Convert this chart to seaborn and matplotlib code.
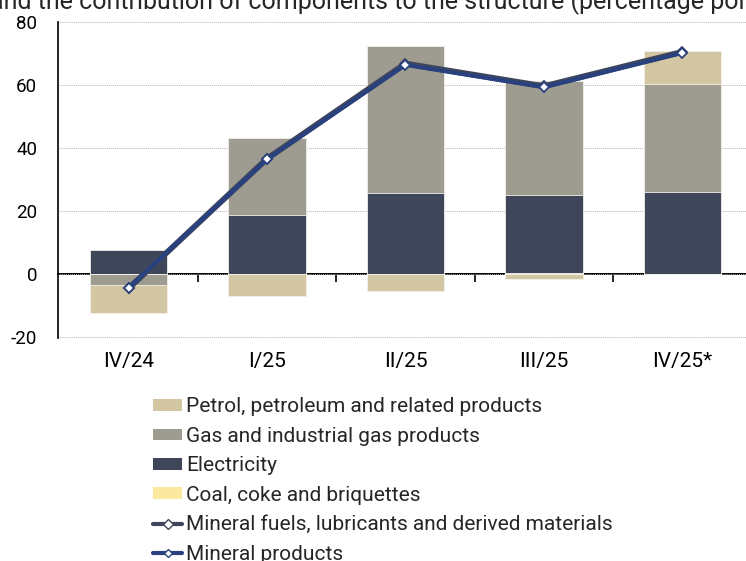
import numpy as np
import pandas as pd
import matplotlib
matplotlib.use("Agg")
import matplotlib.pyplot as plt
import seaborn as sns
from matplotlib.patches import Patch
from matplotlib.lines import Line2D

quarters = ["IV/24", "I/25", "II/25", "III/25", "IV/25*"]
petrol = [-9.0, -6.9, -5.4, -1.5, 10.5]
gas = [-3.5, 24.5, 46.5, 36.4, 34.2]
electricity = [7.7, 18.7, 25.8, 24.6, 26.1]
coal = [0.0, 0.0, 0.0, 0.4, 0.0]
mineral_fuels = [-4.6, 36.6, 66.8, 59.6, 70.5]
mineral_products = [-4.4, 36.4, 66.4, 59.3, 70.2]

title_text = "and the contribution of components to the structure (percentage points)"

c_petrol = "#d3c7a3"
c_gas = "#9e9c90"
c_elec = "#3f4659"
c_coal = "#fce9a0"
c_fuels = "#3f4659"
c_prod = "#2a417f"

sns.set_theme(style="white")
plt.rcParams["font.family"] = ["Roboto", "DejaVu Sans"]
plt.rcParams["axes.unicode_minus"] = False

fig = plt.figure(figsize=(7.46, 5.61), dpi=100)
ax = fig.add_axes([58 / 746, 1 - 337.5 / 561, (746 - 58) / 746, (337.5 - 22) / 561])

p = np.array(petrol); g = np.array(gas); e = np.array(electricity); c = np.array(coal)
pos = lambda a: np.clip(a, 0, None)
neg = lambda a: np.clip(a, None, 0)

layers_pos = [
    (pos(c) + pos(e) + pos(g) + pos(p), c_petrol),
    (pos(c) + pos(e) + pos(g), c_gas),
    (pos(c) + pos(e), c_elec),
    (pos(c), c_coal),
]
layers_neg = [
    (neg(g) + neg(p) + neg(e) + neg(c), c_petrol),
    (neg(g) + neg(e) + neg(c), c_gas),
    (neg(e) + neg(c), c_elec),
]
for vals, col in layers_pos + layers_neg:
    df = pd.DataFrame({"q": quarters, "v": vals})
    sns.barplot(data=df, x="q", y="v", color=col, width=0.56, ax=ax,
                edgecolor="#f4f1ea", linewidth=0.6, saturation=1, zorder=2)

xs = np.arange(len(quarters))
for vals, col, lw in [(mineral_fuels, c_fuels, 4.2), (mineral_products, c_prod, 3.0)]:
    sns.lineplot(x=xs, y=vals, ax=ax, color=col, linewidth=lw, marker="D",
                 markersize=5.5, markerfacecolor="white", markeredgecolor=col,
                 markeredgewidth=1.3, zorder=5, sort=False)

ax.set_xlim(-0.51, 4.46)
ax.set_ylim(-20.2, 80)
ax.set_yticks([-20, 0, 20, 40, 60, 80])
ax.set_xlabel("")
ax.set_ylabel("")
ax.grid(axis="y", color="#b5b5b5", linestyle=(0, (1, 1)), linewidth=0.7, zorder=0)
ax.set_axisbelow(True)
for s in ["top", "right", "bottom"]:
    ax.spines[s].set_visible(False)
ax.spines["left"].set_color("black")
ax.spines["left"].set_linewidth(1.2)
ax.tick_params(axis="y", which="major", direction="out", length=6, width=1.2,
               color="black", labelsize=13.5, pad=9, labelcolor="black")
ax.tick_params(axis="x", which="major", length=0, labelsize=15, pad=10.5, labelcolor="black")

sec = ax.secondary_xaxis(20.2 / 100.2)
sec.set_xticks([0.5, 1.5, 2.5, 3.5])
sec.set_xticklabels([])
sec.tick_params(direction="out", length=6, width=1.2, color="black")
sec.spines["bottom"].set_color("black")
sec.spines["bottom"].set_linewidth(1.4)

handles = [
    Patch(facecolor=c_petrol, edgecolor="none", label="Petrol, petroleum and related products"),
    Patch(facecolor=c_gas, edgecolor="none", label="Gas and industrial gas products"),
    Patch(facecolor=c_elec, edgecolor="none", label="Electricity"),
    Patch(facecolor=c_coal, edgecolor="none", label="Coal, coke and briquettes"),
    Line2D([], [], color=c_fuels, lw=3, marker="D", markersize=5, markerfacecolor="white",
           markeredgecolor=c_fuels, label="Mineral fuels, lubricants and derived materials"),
    Line2D([], [], color=c_prod, lw=3, marker="D", markersize=4, markerfacecolor="white",
           markeredgecolor=c_prod, label="Mineral products"),
]
fig.legend(handles=handles, loc="upper left", bbox_to_anchor=(153 / 746, 1 - 397.5 / 561),
           frameon=False, fontsize=15, handlelength=1.4, handleheight=0.5,
           handletextpad=0.2, labelspacing=0.5, borderaxespad=0, borderpad=0)

fig.text(-10 / 746, 1 - 9 / 561, title_text, fontsize=18, ha="left", va="baseline")

fig.savefig("out.png", dpi=100)
